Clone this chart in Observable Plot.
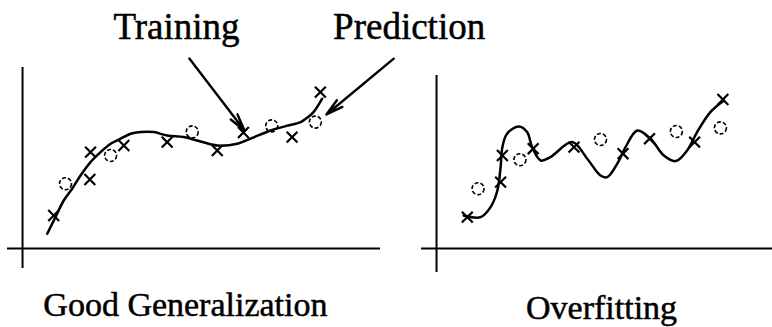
<!DOCTYPE html>
<html>
<head>
<meta charset="utf-8">
<script src="https://cdn.jsdelivr.net/npm/d3@7"></script>
<script src="https://cdn.jsdelivr.net/npm/@observablehq/plot@0.6"></script>
<style>
  html, body { margin: 0; padding: 0; background: white; overflow: hidden; }
  #wrap { width: 772px; height: 327px; overflow: hidden; }
</style>
</head>
<body>
<div id="wrap"></div>
<script>
// Panels
const panels = ["Good Generalization", "Overfitting"];
const titleX = [4.55, 4.61];
const titleY = [-2.81, -2.98];

// Good generalization panel: fitted curve, training (x) and prediction (o) points
const goodCurve = [[0.69,0.74],[0.92,1.57],[1.15,2.40],[1.39,3.00],[1.62,3.65],[1.90,4.32],[2.18,4.82],[2.46,5.24],[2.74,5.49],[3.02,5.74],[3.30,5.82],[3.66,5.82],[4.04,5.65],[4.50,5.57],[4.88,5.40],[5.44,5.15],[6.00,5.24],[6.37,5.49],[6.93,5.90],[7.35,6.12],[7.77,6.32],[7.96,6.55],[8.13,6.82],[8.37,7.49]];
const goodTrain = [[0.87,1.65],[1.88,3.45],[1.90,4.82],[2.83,5.15],[4.04,5.32],[5.44,4.90],[6.17,5.80],[7.53,5.57],[8.32,7.82]];
const goodPredict = [[1.20,3.24],[2.46,4.65],[4.74,5.83],[6.96,6.13],[8.18,6.32]];

// Overfitting panel
const overCurve = [[0.76,1.65],[1.23,1.57],[1.51,2.07],[1.70,2.90],[1.79,4.07],[1.84,5.07],[1.97,5.74],[2.30,6.10],[2.53,5.82],[2.67,5.07],[2.91,4.40],[3.18,4.57],[3.79,5.32],[4.21,4.49],[4.58,3.65],[4.77,3.57],[5.05,4.24],[5.28,5.07],[5.61,5.90],[5.98,5.49],[6.35,4.65],[6.68,4.37],[7.00,4.90],[7.28,5.82],[7.65,6.82],[8.03,7.40]];
const overTrain = [[0.86,1.57],[1.79,3.32],[1.84,4.65],[2.70,4.99],[3.84,5.07],[5.21,4.74],[5.95,5.49],[7.21,5.32],[8.00,7.45]];
const overPredict = [[1.16,2.99],[2.33,4.44],[4.58,5.45],[6.70,5.85],[7.93,6.03]];

// Axis line extents per panel
const vAxisTop = [9.05, 8.65];
const vAxisBottom = [-1.0, -1.2];
const hAxisStart = [-0.42, -0.42];
const hAxisEnd = [10.0, 10.0];

// Annotations (left panel)
const annLabels = ["Training", "Prediction"];
const annTextX = [4.30, 10.80];
const annTextY = 11.09;
const annFrom = [[4.66, 9.5], [10.37, 9.49]];
const annTo = [[6.20, 5.90], [8.49, 6.70]];

const toRows = (arr, panel) => arr.map(([x, y]) => ({panel, x, y}));
const curves = [...toRows(goodCurve, panels[0]), ...toRows(overCurve, panels[1])];
const trains = [...toRows(goodTrain, panels[0]), ...toRows(overTrain, panels[1])];
const predicts = [...toRows(goodPredict, panels[0]), ...toRows(overPredict, panels[1])];
const axesRows = panels.map((p, i) => ({panel: p, top: vAxisTop[i], bottom: vAxisBottom[i], x1: hAxisStart[i], x2: hAxisEnd[i], tx: titleX[i], ty: titleY[i]}));
const annRows = annLabels.map((t, i) => ({panel: panels[0], text: t, tx: annTextX[i], ty: annTextY, x1: annFrom[i][0], y1: annFrom[i][1], x2: annTo[i][0], y2: annTo[i][1]}));

const font = "'Liberation Serif', 'Times New Roman', serif";

const chart = Plot.plot({
  width: 794,
  height: 327,
  marginLeft: 7,
  marginRight: 0,
  marginTop: 0,
  marginBottom: 0,
  style: "max-width:none;background:white;font-family:'Liberation Serif',serif;",
  fx: {domain: panels, paddingInner: 0.099, paddingOuter: 0, round: false, axis: null},
  x: {domain: [-0.42, 10], axis: null},
  y: {domain: [-3.95, 12.4], axis: null},
  marks: [
    Plot.ruleX(axesRows, {fx: "panel", x: 0, y1: "bottom", y2: "top", stroke: "black", strokeWidth: 2}),
    Plot.ruleY(axesRows, {fx: "panel", y: 0, x1: "x1", x2: "x2", stroke: "black", strokeWidth: 2}),
    Plot.line(curves, {fx: "panel", x: "x", y: "y", z: "panel", curve: "catmull-rom", stroke: "black", strokeWidth: 2.5}),
    Plot.dot(trains, {fx: "panel", x: "x", y: "y", symbol: "times", r: 5, stroke: "black", strokeWidth: 2.2}),
    Plot.dot(predicts, {fx: "panel", x: "x", y: "y", symbol: "circle", r: 6, fill: "none", stroke: "black", strokeWidth: 1.6, strokeDasharray: "4,2"}),
    Plot.arrow(annRows, {fx: "panel", x1: "x1", y1: "y1", x2: "x2", y2: "y2", stroke: "black", strokeWidth: 2.4, headLength: 11, headAngle: 28}),
    Plot.text(annRows, {fx: "panel", x: "tx", y: "ty", text: "text", fontSize: 37, fontFamily: font, fill: "black", stroke: "black", strokeWidth: 0.5, textAnchor: "middle", lineAnchor: "middle"}),
    Plot.text(axesRows, {fx: "panel", x: "tx", y: "ty", text: "panel", fontSize: 34, fontFamily: font, fill: "black", stroke: "black", strokeWidth: 0.5, textAnchor: "middle", lineAnchor: "middle"})
  ]
});
document.getElementById("wrap").appendChild(chart);
</script>
</body>
</html>
